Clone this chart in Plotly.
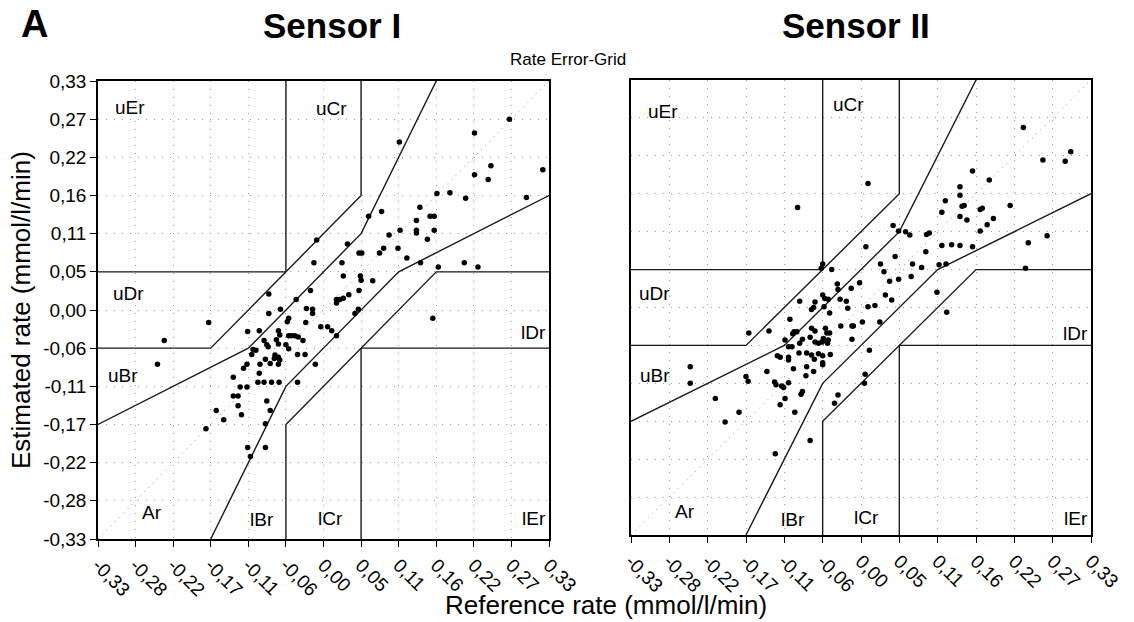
import plotly.graph_objects as go

# Axis ticks (mmol/l/min) and their printed labels
tick_vals = [-0.33, -0.275, -0.22, -0.165, -0.11, -0.055, 0.0, 0.055, 0.11, 0.165, 0.22, 0.275, 0.33]
tick_text = ["-0,33", "-0,28", "-0,22", "-0,17", "-0,11", "-0,06", "0,00",
             "0,05", "0,11", "0,16", "0,22", "0,27", "0,33"]

# Sensor I: reference rate vs. estimated rate
s1_ref = [0.272, 0.221, 0.111, 0.245, 0.221, 0.241, 0.321, 0.166, 0.185, 0.208, 0.297, 0.141,
          0.085, 0.066, 0.156, 0.162, 0.136, 0.112, 0.136, 0.136, 0.162, 0.096, 0.152, -0.010,
          0.035, 0.088, 0.109, 0.052, 0.056, 0.082, 0.122, -0.014, 0.027, 0.142, 0.206, 0.226,
          0.168, 0.029, 0.054, 0.055, 0.072, -0.019, 0.052, 0.019, 0.024, 0.029, 0.037, 0.019,
          -0.025, -0.016, -0.016, 0.051, 0.046, 0.160,
          -0.080, -0.040, -0.168, -0.080, -0.063, -0.051, -0.053, -0.026, -0.111, -0.094, -0.066,
          -0.064, -0.051, -0.047, -0.042, -0.037, -0.030, -0.087, -0.083, -0.081, -0.069, -0.066,
          -0.055, -0.051, -0.103, -0.105, -0.099, -0.004, 0.006, 0.012, 0.019, -0.038, -0.027,
          -0.071, -0.066, -0.072, -0.064, -0.085, -0.093, -0.078, -0.066, -0.112, -0.117, -0.012,
          -0.094, -0.132, -0.096, -0.087, -0.076, -0.065, -0.038, -0.122, -0.112, -0.132, -0.125,
          -0.125, -0.083, -0.157, -0.120, -0.078, -0.146, -0.085, -0.172, -0.111, -0.107, -0.085,
          -0.233, -0.243]
s1_est = [0.275, 0.255, 0.242, 0.208, 0.195, 0.188, 0.202, 0.168, 0.169, 0.161, 0.162, 0.148,
          0.142, 0.135, 0.135, 0.135, 0.129, 0.115, 0.115, 0.111, 0.115, 0.108, 0.102, 0.101,
          0.095, 0.089, 0.089, 0.082, 0.082, 0.082, 0.075, 0.068, 0.068, 0.068, 0.068, 0.062,
          0.062, 0.049, 0.049, 0.043, 0.042, 0.028, 0.028, 0.015, 0.015, 0.017, 0.022, 0.010,
          0.002, 0.001, -0.005, 0.001, -0.005, -0.012,
          0.023, 0.015, -0.018, -0.005, 0.001, -0.012, -0.017, -0.018, -0.031, -0.030, -0.030,
          -0.036, -0.037, -0.037, -0.037, -0.039, -0.044, -0.044, -0.050, -0.053, -0.043, -0.049,
          -0.050, -0.056, -0.057, -0.064, -0.058, -0.024, -0.024, -0.030, -0.037, -0.064, -0.064,
          -0.065, -0.068, -0.070, -0.072, -0.071, -0.078, -0.077, -0.078, -0.078, -0.084, -0.078,
          -0.091, -0.097, -0.104, -0.104, -0.104, -0.104, -0.104, -0.111, -0.111, -0.124, -0.124,
          -0.138, -0.131, -0.145, -0.151, -0.145, -0.158, -0.164, -0.171, -0.198, -0.211, -0.198,
          -0.044, -0.078]

# Sensor II: reference rate vs. estimated rate
s2_ref = [0.233, 0.301, 0.261, 0.293, 0.160, 0.184, 0.010, 0.142, 0.142, -0.091, 0.121, 0.145,
          0.148, 0.171, 0.174, 0.214, 0.116, 0.142, 0.152, 0.190, 0.181, 0.171, 0.046, 0.054,
          0.064, 0.070, 0.094, 0.098, 0.267, 0.240, 0.007, 0.116, 0.130, 0.142, 0.160, 0.093,
          0.049, 0.112, 0.122, -0.055, -0.057, 0.028, 0.074, 0.087, -0.042, 0.033, 0.236, 0.072,
          0.054, 0.041, -0.002, -0.034, -0.033, -0.014, 0.109, 0.035, 0.044, -0.088, -0.066,
          -0.068, -0.071, -0.055, -0.052, -0.047, -0.030, -0.021, -0.019, -0.045, 0.010, 0.020,
          0.123, -0.102, -0.053,
          -0.092, -0.096, -0.098, -0.132, -0.161, -0.071, -0.066, -0.051, -0.049, -0.045, -0.029,
          -0.013, -0.011, 0.002, 0.027, -0.109, -0.104, -0.099, -0.088, -0.084, -0.073, -0.066,
          -0.061, -0.056, -0.054, -0.051, -0.048, -0.047, -0.013, -0.120, -0.116, -0.104, -0.104,
          -0.089, -0.078, -0.071, -0.061, -0.055, -0.044, -0.067, -0.055, -0.055, -0.097, -0.078,
          -0.079, -0.068, 0.012, -0.135, -0.165, -0.162, -0.245, -0.245, -0.124, -0.122, -0.114,
          -0.111, -0.104, -0.084, -0.086, -0.209, -0.109, -0.116, 0.006, 0.005, -0.033, -0.038,
          -0.175, -0.095, -0.195, -0.073, -0.123]
s2_est = [0.261, 0.226, 0.214, 0.212, 0.198, 0.185, 0.180, 0.175, 0.163, 0.145, 0.155, 0.147,
          0.148, 0.142, 0.144, 0.148, 0.138, 0.132, 0.127, 0.129, 0.120, 0.111, 0.119, 0.111,
          0.110, 0.105, 0.106, 0.108, 0.104, 0.094, 0.088, 0.090, 0.091, 0.090, 0.088, 0.081,
          0.074, 0.062, 0.063, 0.063, 0.057, 0.063, 0.063, 0.058, 0.055, 0.052, 0.057, 0.045,
          0.041, 0.038, 0.036, 0.034, 0.026, 0.028, 0.022, 0.018, 0.011, 0.009, 0.008,
          0.000, -0.003, 0.018, 0.013, 0.012, 0.012, 0.009, -0.001, -0.008, 0.001, 0.003,
          -0.007, -0.017, 0.001,
          -0.035, -0.035, -0.038, -0.034, -0.037, -0.030, -0.034, -0.030, -0.037, -0.037, -0.027,
          -0.027, -0.027, -0.021, -0.021, -0.047, -0.057, -0.057, -0.052, -0.046, -0.043, -0.050,
          -0.052, -0.050, -0.045, -0.048, -0.052, -0.047, -0.046, -0.070, -0.072, -0.072, -0.076,
          -0.066, -0.066, -0.069, -0.067, -0.070, -0.068, -0.075, -0.080, -0.083, -0.089, -0.086,
          -0.099, -0.093, -0.062, -0.093, -0.100, -0.107, -0.086, -0.110, -0.108, -0.112, -0.114,
          -0.116, -0.109, -0.122, -0.126, -0.132, -0.132, -0.141, -0.097, -0.110, -0.127, -0.139,
          -0.152, -0.152, -0.166, -0.193, -0.212]

# Zone boundaries of the rate error-grid (x = reference, y = estimated)
zone_lines = [
    ([-0.33, -0.055], [0.055, 0.055]),                                   # uEr / uDr
    ([-0.055, -0.055], [0.055, 0.33]),                                   # uEr / uCr
    ([-0.33, -0.165, 0.055, 0.055], [-0.055, -0.055, 0.165, 0.33]),      # uDr-uCr / uBr
    ([-0.33, -0.11, 0.055, 0.165], [-0.165, -0.055, 0.11, 0.33]),        # upper Ar limit
    ([-0.165, -0.055, 0.11, 0.33], [-0.33, -0.11, 0.055, 0.165]),        # lower Ar limit
    ([-0.055, -0.055, 0.165, 0.33], [-0.33, -0.165, 0.055, 0.055]),      # lBr / lCr-lDr
    ([0.055, 0.055], [-0.33, -0.055]),                                   # lCr / lEr
    ([0.055, 0.33], [-0.055, -0.055]),                                   # lDr / lEr
]
identity_line = ([-0.33, 0.33], [-0.33, 0.33])

zone_names = ["uEr", "uCr", "uDr", "uBr", "Ar", "lBr", "lCr", "lEr", "lDr"]
zone_pos_1 = [(-0.283, 0.292), (0.012, 0.290), (-0.286, 0.024), (-0.293, -0.094), (-0.251, -0.292),
              (-0.090, -0.302), (0.010, -0.300), (0.328, -0.300), (0.328, -0.033)]
zone_pos_2 = [(-0.284, 0.284), (-0.018, 0.294), (-0.296, 0.021), (-0.296, -0.098), (-0.253, -0.296),
              (-0.097, -0.308), (0.008, -0.304), (0.328, -0.306), (0.328, -0.037)]

FONT = "Liberation Sans, Arial, sans-serif"

W, H = 1134, 622


def px(x):
    return x / W


def py(y):
    return 1 - y / H


fig = go.Figure()

panels = [("x", "y", s1_ref, s1_est, zone_pos_1), ("x2", "y2", s2_ref, s2_est, zone_pos_2)]
for xa, ya, xr, ye, zpos in panels:
    fig.add_trace(go.Scatter(x=identity_line[0], y=identity_line[1], mode="lines",
                             line=dict(color="#8c8c8c", width=1, dash="1px,5px"),
                             xaxis=xa, yaxis=ya, showlegend=False, hoverinfo="skip"))
    for lx, ly in zone_lines:
        fig.add_trace(go.Scatter(x=lx, y=ly, mode="lines", line=dict(color="#1a1a1a", width=1.4),
                                 xaxis=xa, yaxis=ya, showlegend=False, hoverinfo="skip"))
    fig.add_trace(go.Scatter(x=xr, y=ye, mode="markers",
                             marker=dict(color="black", size=5.5),
                             xaxis=xa, yaxis=ya, showlegend=False))
    for name, (zx, zy) in zip(zone_names, zpos):
        right = name in ("lEr", "lDr")
        fig.add_annotation(x=zx, y=zy, xref=xa, yref=ya, text=name, showarrow=False,
                           xanchor="right" if right else "center", yanchor="middle",
                           font=dict(family=FONT, size=19, color="black"))

axis_common = dict(range=[-0.33, 0.33], tickvals=tick_vals, ticktext=tick_text, automargin=False,
                   showgrid=True, gridcolor="#9a9a9a", griddash="1px,7px", gridwidth=1,
                   zeroline=False, showline=True, mirror=True, linecolor="black", linewidth=1.5,
                   tickfont=dict(family=FONT, size=19, color="black"))

fig.update_layout(
    width=W, height=H,
    margin=dict(l=0, r=0, t=0, b=0, autoexpand=False),
    paper_bgcolor="white", plot_bgcolor="white",
    xaxis=dict(axis_common, domain=[px(98), px(549)], anchor="y",
               ticks="outside", ticklen=6, tickcolor="black", tickangle=45),
    yaxis=dict(axis_common, domain=[py(539), py(81)], anchor="x",
               ticks="outside", ticklen=6, tickcolor="black"),
    xaxis2=dict(axis_common, domain=[px(631), px(1091)], anchor="y2",
                ticks="outside", ticklen=6, tickcolor="black", tickangle=45),
    yaxis2=dict(axis_common, domain=[py(535), py(80)], anchor="x2",
                ticks="", showticklabels=False),
)

# Titles and axis labels
fig.add_annotation(x=px(19), y=py(24), xref="paper", yref="paper", text="<b>A</b>",
                   showarrow=False, xanchor="left", yanchor="middle",
                   font=dict(family=FONT, size=38, color="black"))
fig.add_annotation(x=px(332), y=py(25), xref="paper", yref="paper", text="<b>Sensor I</b>",
                   showarrow=False, xanchor="center", yanchor="middle",
                   font=dict(family=FONT, size=35, color="black"))
fig.add_annotation(x=px(856), y=py(25), xref="paper", yref="paper", text="<b>Sensor II</b>",
                   showarrow=False, xanchor="center", yanchor="middle",
                   font=dict(family=FONT, size=35, color="black"))
fig.add_annotation(x=px(568), y=py(59), xref="paper", yref="paper", text="Rate Error-Grid",
                   showarrow=False, xanchor="center", yanchor="middle",
                   font=dict(family=FONT, size=17, color="black"))
fig.add_annotation(x=px(606), y=py(605), xref="paper", yref="paper",
                   text="Reference rate (mmol/l/min)", showarrow=False,
                   xanchor="center", yanchor="middle",
                   font=dict(family=FONT, size=26, color="black"))
fig.add_annotation(x=px(21), y=py(310), xref="paper", yref="paper",
                   text="Estimated rate (mmol/l/min)", showarrow=False, textangle=-90,
                   xanchor="center", yanchor="middle",
                   font=dict(family=FONT, size=26, color="black"))

fig.write_html("out.html")
